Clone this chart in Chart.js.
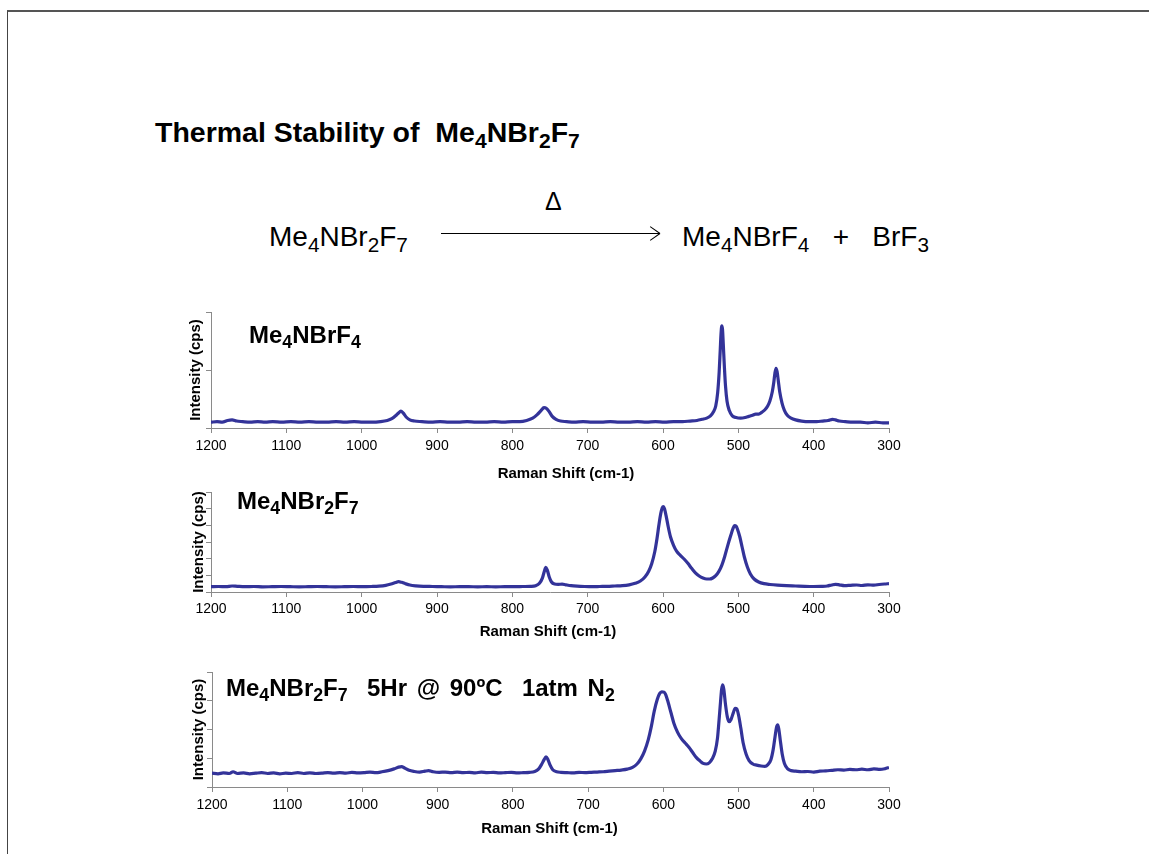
<!DOCTYPE html>
<html>
<head>
<meta charset="utf-8">
<script src="https://cdn.jsdelivr.net/npm/chart.js@4.4.1/dist/chart.umd.min.js"></script>
<style>
  html, body { margin: 0; padding: 0; background: #fff; }
  body { width: 1149px; height: 855px; position: relative; overflow: hidden;
         font-family: "Liberation Sans", Arial, sans-serif; color: #000; }
  .frame { position: absolute; left: 7px; top: 10px; right: -2px; bottom: 1px;
           border-top: 2px solid #555; border-left: 1px solid #444; }
  .txt { position: absolute; white-space: nowrap; line-height: 1; z-index: 2; }
  .txt sub { font-size: 0.74em; vertical-align: -0.3em; line-height: 0; }
  .bold { font-weight: bold; }
  .arrow { position: absolute; left: 441px; top: 233px; width: 219px; height: 1px; background: #000; }
  .arrow::before, .arrow::after { content: ""; position: absolute; right: 0; top: 0; width: 12px; height: 1px;
                  background: #000; transform-origin: 100% 50%; }
  .arrow::before { transform: rotate(35deg); }
  .arrow::after { transform: rotate(-35deg); }
  canvas { position: absolute; z-index: 1; }
</style>
</head>
<body>
<div class="frame"></div>

<div class="txt bold" style="left:155px; top:118px; font-size:28.5px;">Thermal Stability of&nbsp; Me<sub>4</sub>NBr<sub>2</sub>F<sub>7</sub></div>

<div class="txt" style="left:269px; top:223px; font-size:28px;">Me<sub>4</sub>NBr<sub>2</sub>F<sub>7</sub></div>
<div class="txt" style="left:545px; top:189px; font-size:25px;">&Delta;</div>
<div class="arrow"></div>
<div class="txt" style="left:682px; top:223px; font-size:28px;">Me<sub>4</sub>NBrF<sub>4</sub>&nbsp;&nbsp; +&nbsp;&nbsp; BrF<sub>3</sub></div>

<div class="txt bold" style="left:249px; top:323px; font-size:24px;">Me<sub>4</sub>NBrF<sub>4</sub></div>
<div class="txt bold" style="left:237px; top:489px; font-size:24px;">Me<sub>4</sub>NBr<sub>2</sub>F<sub>7</sub></div>
<div class="txt bold" style="left:226px; top:676px; font-size:24px; word-spacing:3px;">Me<sub>4</sub>NBr<sub>2</sub>F<sub>7</sub>&nbsp; 5Hr @ 90ºC&nbsp; 1atm N<sub>2</sub></div>

<canvas id="c1" width="750" height="185" style="left:160px; top:300px;"></canvas>
<canvas id="c2" width="750" height="170" style="left:160px; top:480px;"></canvas>
<canvas id="c3" width="750" height="195" style="left:160px; top:660px;"></canvas>

<script>
// x axis (Raman shift, cm-1) is drawn reversed, 1200 -> 300
const shiftTicks = [1200, 1100, 1000, 900, 800, 700, 600, 500, 400, 300];

// --- Me4NBrF4 ---
const shiftA = [1200, 1192, 1185, 1178, 1172, 1166, 1158, 1148, 1138, 1128, 1118, 1106, 1094, 1082, 1070, 1058, 1046, 1034, 1022, 1010,
  998, 986, 975, 966, 960, 955, 951, 948, 945, 941, 936, 930, 920, 908, 896, 884, 872, 860, 848, 836, 824, 812, 800, 790, 781, 773,
  767, 762, 758, 755, 751, 747, 742, 736, 728, 718, 706, 694, 682, 670, 658, 646, 634, 622, 610, 598, 586, 574, 564, 555, 548, 542,
  537, 533, 530, 527.5, 525.5, 524, 523, 522, 521, 520, 518.5, 517, 515, 512, 508, 503, 497, 491, 486, 481, 477, 473, 469, 465, 461,
  458, 455, 453, 451.5, 450, 448.5, 447, 445, 442, 439, 435, 430, 424, 416, 406, 396, 388, 381, 375, 371, 366, 358, 348, 338, 328,
  318, 308, 300];
const intensityA = [0.10, 0.11, 0.10, 0.13, 0.14, 0.12, 0.11, 0.10, 0.11, 0.10, 0.11, 0.10, 0.11, 0.10, 0.11, 0.10, 0.10, 0.11, 0.10, 0.11,
  0.10, 0.10, 0.11, 0.13, 0.16, 0.21, 0.26, 0.29, 0.26, 0.19, 0.14, 0.12, 0.11, 0.10, 0.11, 0.10, 0.10, 0.11, 0.10, 0.10, 0.11, 0.10, 0.11, 0.11, 0.13, 0.17,
  0.23, 0.30, 0.35, 0.34, 0.28, 0.20, 0.15, 0.12, 0.11, 0.10, 0.11, 0.10, 0.10, 0.11, 0.10, 0.10, 0.11, 0.10, 0.11, 0.10, 0.11, 0.11, 0.12, 0.13, 0.15, 0.17,
  0.21, 0.28, 0.38, 0.60, 0.95, 1.35, 1.62, 1.76, 1.70, 1.45, 1.05, 0.72, 0.46, 0.30, 0.21, 0.18, 0.17, 0.18, 0.20, 0.22, 0.24, 0.24, 0.27, 0.31, 0.38,
  0.47, 0.62, 0.78, 0.94, 1.03, 0.97, 0.82, 0.62, 0.43, 0.31, 0.22, 0.17, 0.14, 0.12, 0.11, 0.11, 0.12, 0.13, 0.15, 0.14, 0.12, 0.11, 0.10, 0.10, 0.09,
  0.10, 0.09, 0.09];

// --- Me4NBr2F7 ---
const shiftB = [1200, 1190, 1180, 1172, 1165, 1155, 1143, 1131, 1119, 1107, 1095, 1083, 1071, 1059, 1047, 1035, 1023, 1011, 999, 987,
  977, 968, 961, 955, 951, 947, 942, 936, 928, 918, 906, 894, 882, 870, 858, 846, 834, 822, 810, 798, 786, 776, 769, 764, 760, 757.5,
  755.5, 753.5, 751, 748, 744, 739, 734, 729, 722, 714, 704, 694, 684, 674, 664, 654, 645, 637, 630, 624, 619, 615, 611, 608, 605.5,
  603, 601, 599.5, 598, 596, 593, 590, 586, 582, 577, 572, 567, 562, 557, 552, 547, 542, 538, 534, 530, 526, 522, 518, 514, 510, 507,
  505, 503, 501, 498, 495, 492, 488, 484, 479, 473, 466, 458, 448, 436, 424, 412, 400, 390, 382, 376, 371, 366, 359, 351, 343, 336,
  328, 320, 313, 306, 300];
const intensityB = [0.32, 0.33, 0.32, 0.36, 0.34, 0.32, 0.33, 0.31, 0.32, 0.33, 0.32, 0.31, 0.32, 0.33, 0.32, 0.31, 0.32, 0.33, 0.32, 0.33,
  0.35, 0.40, 0.48, 0.57, 0.62, 0.58, 0.50, 0.42, 0.37, 0.34, 0.33, 0.32, 0.31, 0.32, 0.32, 0.31, 0.32, 0.31, 0.32, 0.32, 0.33, 0.34, 0.38, 0.52, 0.85, 1.25,
  1.48, 1.30, 0.90, 0.60, 0.48, 0.46, 0.47, 0.43, 0.38, 0.35, 0.33, 0.32, 0.33, 0.34, 0.36, 0.38, 0.43, 0.52, 0.66, 0.90, 1.25, 1.70, 2.40, 3.20, 4.00,
  4.70, 5.05, 5.12, 5.00, 4.60, 3.90, 3.30, 2.80, 2.45, 2.20, 1.98, 1.72, 1.42, 1.15, 0.96, 0.84, 0.78, 0.78, 0.84, 0.98, 1.22, 1.60, 2.15, 2.80, 3.40, 3.82,
  3.98, 3.95, 3.75, 3.30, 2.70, 2.10, 1.50, 1.08, 0.78, 0.60, 0.50, 0.45, 0.41, 0.38, 0.36, 0.34, 0.33, 0.34, 0.36, 0.42, 0.46, 0.43, 0.38, 0.40, 0.42, 0.39,
  0.43, 0.41, 0.45, 0.48, 0.50];

// --- Me4NBr2F7 after 5 h at 90 ºC ---
const shiftC = [1200, 1192, 1185, 1177, 1172, 1166, 1158, 1150, 1142, 1134, 1126, 1118, 1110, 1102, 1094, 1086, 1078, 1070, 1062, 1054,
  1046, 1038, 1030, 1022, 1014, 1006, 998, 990, 982, 974, 966, 958, 952, 948, 944, 938, 931, 924, 917, 912, 906, 898, 890, 882, 874,
  866, 858, 850, 842, 834, 826, 818, 810, 802, 794, 786, 778, 771, 766, 762, 758.5, 756, 753.5, 750.5, 747, 742, 736, 728, 720, 712,
  704, 696, 688, 680, 672, 664, 656, 648, 641, 635, 630, 625, 620, 616, 612, 608, 605, 602, 599, 597, 594, 590, 586, 581, 576, 571,
  566, 561, 556, 551, 547, 543, 539, 535, 531, 528, 526, 524, 522.5, 521, 519.5, 517.5, 515, 512.5, 510, 507, 504.5, 502.5, 500, 497,
  494, 490, 486, 481, 476, 470, 465, 461, 457, 454, 451.5, 449.5, 448, 446.5, 444.5, 442, 439, 435, 430, 424, 416, 408, 400, 392, 384,
  376, 368, 360, 352, 344, 336, 328, 320, 312, 305, 300];
const intensityC = [0.48, 0.46, 0.49, 0.47, 0.53, 0.47, 0.49, 0.46, 0.48, 0.50, 0.47, 0.49, 0.46, 0.48, 0.47, 0.50, 0.47, 0.49, 0.47, 0.48,
  0.50, 0.48, 0.50, 0.48, 0.51, 0.49, 0.50, 0.52, 0.50, 0.53, 0.57, 0.63, 0.69, 0.71, 0.66, 0.58, 0.54, 0.52, 0.55, 0.57, 0.53, 0.51, 0.52, 0.50, 0.52,
  0.50, 0.51, 0.49, 0.52, 0.50, 0.51, 0.49, 0.50, 0.51, 0.49, 0.50, 0.51, 0.54, 0.62, 0.78, 0.95, 1.05, 0.96, 0.76, 0.60, 0.53, 0.51, 0.50, 0.49, 0.51,
  0.50, 0.51, 0.52, 0.53, 0.55, 0.57, 0.59, 0.62, 0.68, 0.80, 0.98, 1.25, 1.65, 2.10, 2.65, 3.05, 3.25, 3.31, 3.30, 3.22, 2.98, 2.60, 2.22, 1.90, 1.68, 1.53,
  1.38, 1.20, 1.02, 0.90, 0.82, 0.80, 0.84, 0.98, 1.25, 1.70, 2.30, 2.95, 3.40, 3.55, 3.38, 2.90, 2.45, 2.27, 2.35, 2.58, 2.74, 2.72, 2.50, 2.05,
  1.55, 1.15, 0.92, 0.80, 0.76, 0.73, 0.72, 0.78, 0.95, 1.30, 1.75, 2.08, 2.16, 2.02, 1.62, 1.15, 0.82, 0.64, 0.57, 0.55, 0.53, 0.54, 0.52, 0.55, 0.56,
  0.58, 0.60, 0.59, 0.61, 0.60, 0.62, 0.60, 0.63, 0.61, 0.64, 0.68];

const LINE = '#333399';
const AXIS = '#8a8a8a';
const FONT = '"Liberation Sans", Arial, sans-serif';

// draws the "Raman Shift (cm-1)" caption under the plot, shifted like the slide has it
const captionPlugin = {
  id: 'caption',
  afterDraw(chart, args, opts) {
    const { ctx, chartArea } = chart;
    ctx.save();
    ctx.font = 'bold 15px ' + FONT;
    ctx.fillStyle = '#000';
    ctx.textAlign = 'center';
    ctx.textBaseline = 'middle';
    ctx.fillText(opts.text, (chartArea.left + chartArea.right) / 2 + opts.dx, chartArea.bottom + opts.dy);
    ctx.restore();
  }
};

function spectrum(id, xs, ys, yTicks, cfg) {
  const yMax = yTicks[yTicks.length - 1];
  return new Chart(document.getElementById(id), {
    type: 'line',
    data: {
      datasets: [{
        data: xs.map((x, i) => ({ x, y: ys[i] })),
        borderColor: LINE,
        borderWidth: 3.2,
        pointRadius: 0,
        cubicInterpolationMode: 'monotone',
      }],
    },
    options: {
      responsive: false,
      animation: false,
      layout: { padding: { left: 0, right: cfg.right, top: 12, bottom: 0 } },
      plugins: {
        legend: { display: false },
        tooltip: { enabled: false },
        caption: { text: 'Raman Shift (cm-1)', dx: cfg.capDx, dy: cfg.capDy },
      },
      scales: {
        x: {
          type: 'linear',
          reverse: true,
          min: 300,
          max: 1200,
          afterBuildTicks: s => { s.ticks = shiftTicks.map(v => ({ value: v })); },
          afterFit: s => { s.height = cfg.xh; },
          grid: { display: true, drawOnChartArea: false, drawTicks: true, tickLength: 5, color: AXIS },
          border: { display: true, color: AXIS, width: 1 },
          ticks: { color: '#000', font: { family: FONT, size: 14 }, padding: cfg.tickPad, maxRotation: 0, autoSkip: false,
                   callback: v => String(v) },
        },
        y: {
          min: 0,
          max: yMax,
          afterBuildTicks: s => { s.ticks = yTicks.map(v => ({ value: v })); },
          afterFit: s => { s.width = cfg.yw; },
          grid: { display: true, drawOnChartArea: false, drawTicks: true, tickLength: 5, color: AXIS },
          border: { display: true, color: AXIS, width: 1 },
          ticks: { display: false },
          title: {
            display: true,
            text: 'Intensity (cps)',
            color: '#000',
            font: { family: FONT, size: 15, weight: 'bold' },
            padding: { top: cfg.titlePad, bottom: 0 },
          },
        },
      },
    },
    plugins: [captionPlugin],
  });
}

spectrum('c1', shiftA, intensityA, [0, 1, 2],
  { right: 21, xh: 57, yw: 51, tickPad: 5, titlePad: 27, capDx: 16, capDy: 46 });
spectrum('c2', shiftB, intensityB, [0, 1, 2, 3, 4, 5, 6],
  { right: 21, xh: 58, yw: 51, tickPad: 4, titlePad: 30, capDx: -2, capDy: 40 });
spectrum('c3', shiftC, intensityC, [0, 1, 2, 3, 4],
  { right: 21, xh: 68, yw: 52, tickPad: 5, titlePad: 30, capDx: -1, capDy: 42 });
</script>
</body>
</html>
